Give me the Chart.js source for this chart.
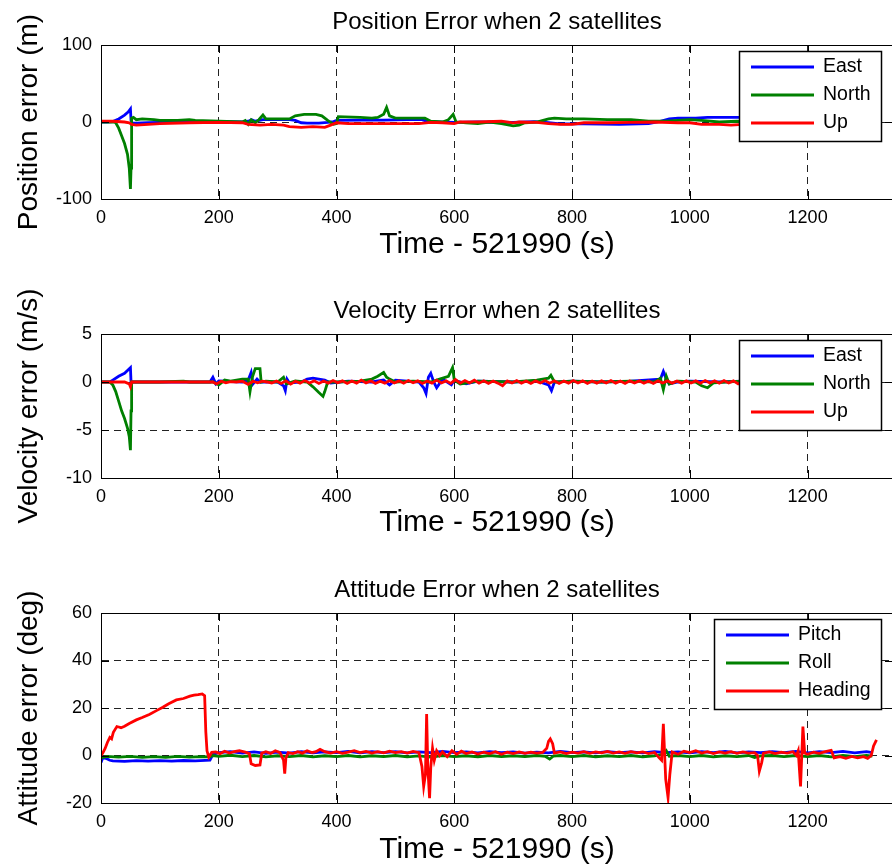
<!DOCTYPE html>
<html>
<head>
<meta charset="utf-8">
<script src="https://cdn.jsdelivr.net/npm/chart.js@4/dist/chart.umd.min.js"></script>
<style>
  html, body { margin: 0; padding: 0; background: #fff; overflow: hidden; width: 892px; height: 868px; }
  .panel { position: absolute; left: 0; }
</style>
</head>
<body>
<canvas id="pos" class="panel" width="960" height="263" style="top:0px"></canvas>
<canvas id="vel" class="panel" width="960" height="256" style="top:285px"></canvas>
<canvas id="att" class="panel" width="960" height="298" style="top:570px"></canvas>
<script>
// axis ticks
const xTicks = { min: 0, max: 1345, step: 200 };
const xLabel = 'Time - 521990 (s)';

// Position error [time, metres]
const posEast = [[0,0],[10,0],[20,0.5],[30,4],[40,9],[46,13],[50,17],[51,2],[53,-1],[60,-1.5],[80,-1],[100,-0.5],[140,0],[180,0],[200,0.5],[240,0],[250,1],[256,3],[262,1],[275,3],[300,3],[320,3],[330,2],[340,-1],[350,-1.5],[370,-1.5],[385,-0.5],[395,0.5],[400,2],[440,2.5],[480,2.5],[520,3],[545,3],[555,0.5],[600,-0.5],[640,0],[700,-0.5],[735,0.5],[760,-1],[780,-2.5],[820,-2.5],[880,-3],[930,-2],[945,0],[965,4],[980,5],[1010,5],[1030,6],[1060,6],[1090,6],[1200,5],[1310,5]];
const posNorth = [[0,0],[20,0],[25,-1],[30,-8],[35,-18],[40,-28],[45,-42],[48,-60],[50,-87],[51,-60],[52,5],[55,6],[60,3],[70,4],[90,3],[100,2],[130,2],[150,3],[160,2],[200,1],[240,0],[245,2],[250,-3],[255,3],[262,-1],[268,3],[275,9],[280,4],[300,4],[320,4],[330,8],[345,10],[365,10],[375,8],[385,2],[395,-3],[400,-2],[403,7],[440,6],[460,5],[470,6],[480,10],[485,19],[490,8],[500,5],[550,5],[560,1],[580,0],[590,3],[598,10],[603,0],[620,-1],[640,-2],[660,0],[680,-2],[700,-5],[710,-4],[720,-1],[740,0],[760,4],[770,5],[790,4],[820,4],[860,3],[900,3],[930,1],[960,1],[980,2],[1000,3],[1020,2],[1050,0],[1080,1],[1110,0],[1310,0]];
const posUp = [[0,1],[20,1],[40,0],[48,-1],[52,-3],[60,-4],[80,-3],[100,-2],[150,-1],[200,-0.5],[240,-1],[250,-3],[270,-4],[290,-3],[310,-4],[320,-6],[340,-7],[360,-6],[380,-7],[390,-4],[400,-1],[420,-2],[460,-2],[500,-2],[540,-2],[560,-0.5],[580,-1],[600,-2],[610,0],[640,0],[680,1],[700,-1],[710,0],[740,-0.5],[760,-2],[780,-3],[800,-3],[820,-1],[860,-1],[900,-0.5],[940,0],[980,-1],[1000,-1],[1020,-3],[1050,-3],[1070,-4],[1090,-3],[1310,-2]];

// Velocity error [time, m/s]
const velEast = [[0,0],[15,0],[20,0.2],[30,0.6],[40,0.9],[45,1.2],[50,1.5],[51,0],[60,0],[100,0],[150,0],[185,0],[190,0.5],[195,-0.2],[200,0.1],[240,0],[250,0.2],[255,1.0],[258,-0.2],[265,0.3],[270,0],[300,0],[310,-0.4],[313,-0.9],[316,0.3],[320,-0.1],[340,0],[350,0.3],[360,0.4],[370,0.3],[380,0.2],[390,-0.1],[420,0.1],[460,0],[480,0.2],[490,-0.3],[500,0.2],[540,0],[548,-0.6],[552,-1.2],[556,0.5],[560,0.9],[565,0],[570,-0.6],[580,0.3],[595,-0.3],[600,0.2],[620,-0.2],[640,0.1],[700,0],[740,0.1],[760,-0.3],[765,-0.9],[770,0],[800,0.1],[850,0],[900,0.1],[950,0.3],[955,1.1],[960,0.3],[965,-0.2],[980,0],[1000,0.1],[1050,0],[1090,0.1],[1310,0]];
const velNorth = [[0,0],[15,0],[20,-0.3],[25,-1],[30,-2],[35,-3],[40,-3.8],[45,-4.8],[48,-5.7],[50,-7.1],[51,-3],[52,0],[60,0],[100,0],[140,0.1],[150,0],[190,0],[200,-0.3],[210,0.2],[220,0.1],[240,0.3],[250,0.3],[253,-1.0],[257,0.5],[262,1.4],[270,1.4],[272,0],[280,0.1],[300,0],[310,0.5],[315,-0.2],[330,0.1],[350,0],[360,-0.5],[370,-1.1],[377,-1.5],[380,-1],[385,0],[400,0],[440,0.1],[460,0.3],[470,0.6],[480,1.0],[485,0.5],[490,0.3],[500,0],[530,0.1],[560,0],[575,0.3],[590,0.6],[597,1.5],[600,0.2],[610,-0.2],[640,0.1],[700,0],[740,0.2],[760,0.4],[764,0.7],[770,0],[800,0.1],[850,0],[900,0.1],[940,0],[950,0.4],[955,-0.8],[960,0.6],[965,-0.2],[980,0.1],[1010,0],[1020,-0.4],[1030,-0.6],[1040,-0.1],[1060,0],[1090,0.1],[1310,0]];
const velUp = [[0,0],[20,0],[40,0],[48,-0.2],[50,-0.5],[52,0],[100,0],[150,0],[190,0],[196,-0.2],[204,0.08],[212,-0.08],[220,0.04],[230,0],[240,0.08],[250,-0.25],[258,0.08],[266,-0.08],[274,0.08],[282,0],[290,-0.1],[298,0.1],[306,-0.15],[314,0.12],[322,-0.22],[330,0.08],[338,-0.12],[346,0.15],[354,-0.1],[362,0.12],[370,-0.15],[378,0.1],[386,-0.12],[394,0.15],[402,-0.08],[410,0.12],[418,-0.15],[426,0.1],[434,-0.12],[442,0.2],[450,-0.1],[458,0.12],[466,-0.15],[474,0.08],[482,-0.12],[490,0.15],[498,-0.1],[506,0.12],[514,-0.12],[522,0.15],[530,-0.08],[538,0.12],[546,-0.15],[554,0.1],[562,-0.12],[570,0.2],[578,-0.1],[586,0.12],[594,-0.15],[602,0.25],[610,-0.12],[618,0.15],[626,-0.1],[634,0.2],[642,-0.12],[650,0.12],[658,-0.15],[666,0.1],[674,-0.12],[682,-0.4],[690,0.12],[698,-0.1],[706,0.15],[714,-0.12],[722,0.1],[730,-0.15],[738,0.12],[746,-0.1],[754,0.15],[762,-0.12],[770,0.12],[778,-0.15],[786,0.1],[794,-0.12],[802,0.15],[810,-0.1],[818,0.12],[826,-0.15],[834,0.1],[842,-0.12],[850,0.12],[858,-0.1],[866,0.15],[874,-0.12],[882,0.1],[890,-0.15],[898,0.12],[906,-0.1],[914,0.12],[922,-0.12],[930,0.1],[938,-0.15],[946,0.12],[954,-0.1],[962,0.12],[970,-0.12],[978,0.1],[986,-0.12],[994,0.12],[1002,-0.1],[1010,0.12],[1018,-0.12],[1026,0.15],[1034,-0.1],[1042,0.12],[1050,-0.12],[1058,0.15],[1066,-0.1],[1074,0.12],[1082,-0.2],[1090,0.1],[1100,-0.08],[1120,0.08],[1140,-0.08],[1160,0.08],[1180,-0.08],[1200,0.08],[1220,-0.08],[1240,0.08],[1260,-0.08],[1280,0.08],[1300,-0.08],[1310,0]];

// Attitude error [time, deg]
const attPitch = [[0,-3],[3,-1],[8,-1.2],[15,-2],[20,-2.3],[40,-2.5],[60,-2.2],[80,-2.4],[100,-2.2],[120,-2.4],[140,-2.1],[160,-2.3],[185,-2.0],[190,0.5],[200,1.2],[220,1.6],[240,1.0],[260,1.5],[280,0.9],[300,1.4],[320,1.0],[340,1.6],[360,1.1],[380,1.5],[400,1.2],[420,1.7],[440,1.1],[460,1.6],[480,1.2],[500,1.6],[520,1.1],[540,1.5],[560,1.2],[580,1.7],[600,1.2],[620,1.5],[640,1.1],[660,1.6],[680,1.2],[700,1.5],[720,1.0],[740,1.4],[760,1.1],[780,1.7],[800,1.2],[820,1.5],[840,1.1],[860,1.6],[880,1.2],[900,1.5],[920,1.1],[940,1.6],[960,1.2],[980,1.5],[1000,1.1],[1020,1.6],[1040,1.2],[1060,1.7],[1080,1.1],[1100,1.5],[1120,1.2],[1140,1.6],[1160,1.2],[1180,1.7],[1200,1.1],[1220,1.6],[1240,1.2],[1260,1.7],[1280,1.1],[1300,1.6],[1310,1.2]];
const attRoll = [[0,-1],[10,-0.4],[30,-0.7],[50,-0.4],[70,-0.8],[90,-0.5],[110,-0.8],[130,-0.4],[150,-0.7],[170,-0.5],[185,-0.6],[190,0],[200,-0.4],[220,0.1],[240,-0.5],[260,0],[280,-0.6],[300,-0.1],[320,-0.5],[340,0],[360,-0.6],[380,-0.1],[400,-0.5],[420,0],[440,-0.6],[460,-0.1],[480,-0.5],[500,0],[520,-0.6],[540,-0.2],[560,-0.7],[580,0],[600,-0.5],[620,-0.1],[640,-0.6],[660,0],[680,-0.5],[700,-0.1],[720,-0.5],[740,0],[755,-0.4],[762,-1.5],[768,-0.3],[780,0],[800,-0.5],[820,0],[840,-0.6],[860,-0.1],[880,-0.5],[900,0],[920,-0.6],[940,-0.1],[955,0.5],[960,2],[965,-0.3],[980,0],[1000,-0.5],[1020,0],[1040,-0.6],[1060,-0.1],[1080,-0.5],[1100,0],[1110,-0.9],[1120,-0.2],[1140,0],[1160,-0.5],[1180,0],[1200,-0.5],[1220,0],[1240,-0.6],[1260,0],[1280,-0.5],[1300,0],[1310,-0.3]];
const attHeading = [[0,0],[3,1],[7,3],[11,5.6],[15,7.6],[18,7],[21,9.8],[24,11],[27,12.2],[30,12],[34,11.7],[40,12.3],[48,13.5],[60,15],[70,16],[82,17.3],[95,19],[105,20.3],[115,21.8],[128,23.4],[140,24],[151,25],[158,25.4],[165,25.6],[172,25.9],[176,25.2],[178,10],[180,2],[183,-0.7],[188,1.3],[195,1.5],[202,0.8],[210,1.8],[218,1],[226,1.6],[235,2],[245,1.4],[252,0.8],[255,-3.5],[262,-4.2],[270,-4],[273,1],[280,1.6],[288,0.9],[296,2],[304,1.2],[310,-2],[312,-7.6],[314,-1],[318,1.2],[326,0.8],[334,1.6],[342,1],[350,2],[358,1.2],[365,1.6],[372,2.6],[380,1.6],[390,1],[400,1.6],[410,0.9],[420,1.4],[430,2],[440,1.2],[450,1.7],[460,1],[470,1.6],[480,1.1],[490,1.8],[500,1.2],[510,1.6],[520,1],[530,1.7],[540,1.2],[545,-4.6],[548,-13],[551,-8],[553,17.5],[555,-5],[558,-18],[560,-5],[563,3],[566,-2],[570,2],[575,0],[580,1.5],[588,-0.5],[596,2],[604,0.5],[612,1.8],[620,0.8],[630,1.5],[640,0.6],[650,1.4],[660,0.8],[670,1.6],[680,0.5],[690,1.4],[700,0.8],[710,1.5],[720,0.9],[730,1.4],[740,1],[750,1.3],[757,3],[760,6],[763,7],[767,5],[770,1],[780,1.5],[790,0.8],[800,1.4],[810,1],[820,1.6],[830,0.9],[840,1.5],[850,1.1],[860,1.7],[870,1],[880,1.5],[890,0.9],[900,1.6],[910,1.1],[920,1.5],[930,0.8],[940,1.3],[948,-1],[952,-2],[955,13.3],[959,-10],[963,-17.7],[966,-8],[970,1.5],[980,0.5],[990,1.8],[1000,1.2],[1010,2],[1020,1],[1030,1.6],[1040,0.8],[1050,1.5],[1060,1],[1070,1.6],[1080,0.9],[1090,1.5],[1100,1],[1110,1.2],[1115,0],[1118,-6.6],[1122,-3],[1125,1],[1135,1.5],[1145,0.8],[1155,1.4],[1165,1],[1175,1.6],[1181,0],[1184,2],[1188,-13],[1192,12.2],[1195,1],[1200,0.5],[1210,1.4],[1220,0.9],[1230,1.6],[1240,2.2],[1245,-1],[1255,-0.5],[1265,-1.2],[1275,-0.4],[1285,-1],[1295,-0.5],[1302,-1.2],[1308,0],[1312,4],[1317,6.6]];

const FONT = "'Liberation Sans', Arial, Helvetica, sans-serif";
Chart.defaults.font.family = FONT;
Chart.defaults.color = '#000';

// matlab style: title over the axes, box, inward ticks and legend inside the axes
const matlabBox = {
  id: 'matlabBox',
  afterDatasetsDraw(chart, args, opts) {
    const { ctx, chartArea: a, scales } = chart;
    ctx.save();
    ctx.strokeStyle = '#000';
    ctx.lineWidth = 1;
    ctx.beginPath();
    scales.x.ticks.forEach(t => {
      const px = Math.round(scales.x.getPixelForValue(t.value)) + 0.5;
      ctx.moveTo(px, a.bottom); ctx.lineTo(px, a.bottom - 8);
      ctx.moveTo(px, a.top); ctx.lineTo(px, a.top + 8);
    });
    scales.y.ticks.forEach(t => {
      const py = Math.round(scales.y.getPixelForValue(t.value)) + 0.5;
      ctx.moveTo(a.left, py); ctx.lineTo(a.left + 8, py);
      ctx.moveTo(a.right, py); ctx.lineTo(a.right - 8, py);
    });
    ctx.stroke();
    ctx.strokeRect(Math.round(a.left) + 0.5, Math.round(a.top) + 0.5,
      Math.round(a.right - a.left), Math.round(a.bottom - a.top));

    // title centred over the axes
    ctx.fillStyle = '#000';
    ctx.font = '24px ' + FONT;
    ctx.textAlign = 'center';
    ctx.textBaseline = 'middle';
    ctx.fillText(opts.title, (a.left + a.right) / 2, a.top - 23);

    // legend
    const ds = chart.data.datasets;
    ctx.font = '19.5px ' + FONT;
    ctx.textAlign = 'left';
    const tw = Math.max(...ds.map(d => ctx.measureText(d.label).width));
    const w = Math.round(84 + tw + 10), h = 90;
    const left = Math.round(a.right - 12 - w), top = Math.round(a.top + 6);
    ctx.fillStyle = '#fff';
    ctx.fillRect(left, top, w, h);
    ctx.lineWidth = 1.5;
    ctx.strokeRect(left + 0.5, top + 0.5, w, h);
    ds.forEach((d, i) => {
      const y = top + 16 + i * 28;
      ctx.strokeStyle = d.borderColor;
      ctx.lineWidth = 3;
      ctx.beginPath();
      ctx.moveTo(left + 12, y); ctx.lineTo(left + 75, y);
      ctx.stroke();
      ctx.fillStyle = '#000';
      ctx.fillText(d.label, left + 84, y);
    });
    ctx.restore();
  }
};

function makeChart(id, cfg) {
  const colors = ['#0000ff', '#008000', '#ff0000'];
  new Chart(document.getElementById(id), {
    type: 'line',
    data: {
      datasets: cfg.series.map((s, i) => ({
        label: s[0],
        data: s[1].map(p => ({ x: p[0], y: p[1] })),
        borderColor: colors[i],
        borderWidth: 2.8,
        pointRadius: 0,
        tension: 0,
        order: 3 - i
      }))
    },
    options: {
      responsive: false,
      animation: false,
      devicePixelRatio: 1,
      layout: { padding: { top: cfg.top, right: 67 } },
      plugins: {
        legend: { display: false },
        tooltip: { enabled: false },
        title: { display: false },
        matlabBox: { title: cfg.title }
      },
      scales: {
        x: {
          type: 'linear', min: xTicks.min, max: xTicks.max,
          afterBuildTicks: s => { s.ticks = s.ticks.filter(t => t.value % xTicks.step === 0); },
          ticks: { stepSize: xTicks.step, padding: 8, font: { size: 18 }, color: '#000', callback: v => String(v) },
          grid: { color: '#222', lineWidth: 1, drawTicks: false },
          border: { display: true, color: '#000', dash: [7, 5] },
          title: { display: true, text: xLabel, color: '#000', font: { size: 30 }, padding: 0 },
          afterFit: s => { s.height = cfg.xHeight; }
        },
        y: {
          min: cfg.yMin, max: cfg.yMax,
          ticks: { stepSize: cfg.yStep, padding: 9, font: { size: 18 }, color: '#000' },
          grid: { color: '#222', lineWidth: 1, drawTicks: false },
          border: { display: true, color: '#000', dash: [7, 5] },
          title: { display: true, text: cfg.yLabel, color: '#000', font: { size: 28 }, padding: { top: 12, bottom: 0 } },
          afterFit: s => { s.width = 101; }
        }
      }
    },
    plugins: [matlabBox]
  });
}

makeChart('pos', {
  title: 'Position Error when 2 satellites', yLabel: 'Position error (m)',
  yMin: -100, yMax: 100, yStep: 100,
  top: 45, xHeight: 64,
  series: [['East', posEast], ['North', posNorth], ['Up', posUp]]
});
makeChart('vel', {
  title: 'Velocity Error when 2 satellites', yLabel: 'Velocity error (m/s)',
  yMin: -10, yMax: 5, yStep: 5,
  top: 49, xHeight: 63,
  series: [['East', velEast], ['North', velNorth], ['Up', velUp]]
});
makeChart('att', {
  title: 'Attitude Error when 2 satellites', yLabel: 'Attitude error (deg)',
  yMin: -20, yMax: 60, yStep: 20,
  top: 43, xHeight: 65,
  series: [['Pitch', attPitch], ['Roll', attRoll], ['Heading', attHeading]]
});
</script>
</body>
</html>
